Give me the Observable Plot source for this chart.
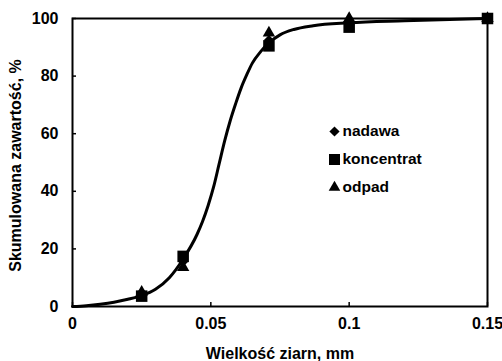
<!DOCTYPE html>
<html>
<head>
<meta charset="utf-8">
<script src="https://cdn.jsdelivr.net/npm/d3@7"></script>
<script src="https://cdn.jsdelivr.net/npm/@observablehq/plot@0.6"></script>
<style>
  html, body { margin: 0; padding: 0; background: #fff; }
  #chart svg { display: block; }
</style>
</head>
<body>
<div id="chart"></div>
<script>
// grain size, mm
const sizes = [0.025, 0.04, 0.071, 0.1, 0.15];
const nadawa = [4, 15.5, 92.5, 98.5, 100];
const koncentrat = [3.6, 17.4, 90.5, 97, 100];
const odpad = [5, 13.6, 95, 100, 100];
const seriesNames = ["nadawa", "koncentrat", "odpad"];

// fitted curve
const curveX = [0, 0.005, 0.01, 0.015, 0.02, 0.025, 0.03, 0.035, 0.04, 0.045, 0.047, 0.049, 0.051, 0.053, 0.055, 0.057, 0.059, 0.061, 0.063, 0.065, 0.068, 0.071, 0.075, 0.08, 0.087, 0.1, 0.12, 0.15];
const curveY = [0, 0.3, 0.8, 1.5, 2.5, 3.8, 6, 10, 16.5, 25, 29.5, 35, 41.5, 49.5, 57.5, 64.5, 70.5, 76, 80.5, 84.5, 88.5, 91.5, 94.3, 96.2, 97.5, 98.5, 99.2, 100];

const xTicks = [0, 0.05, 0.1, 0.15];
const xTickLabels = ["0", "0.05", "0.1", "0.15"];
const yTicks = [0, 20, 40, 60, 80, 100];
const xTitle = "Wielkość ziarn, mm";
const yTitle = "Skumulowana zawartość, %";

const curve = curveX.map((x, i) => ({x, y: curveY[i]}));
const toRows = (vals) => sizes.map((x, i) => ({x, y: vals[i]}));

const symbols = ["diamond2", "square", "triangle"];
const legendR = [4.6, 6.2, 4.3];

const legendMarks = [];
seriesNames.forEach((name, i) => {
  legendMarks.push(Plot.dot([name], {frameAnchor: "top-left", dx: 262, dy: 113 + i * 28, symbol: symbols[i], r: legendR[i], fill: "black"}));
  legendMarks.push(Plot.text([name], {frameAnchor: "top-left", dx: 270, dy: 113 + i * 28, text: d => d, textAnchor: "start", lineAnchor: "middle", fill: "black", fontSize: 15.5}));
});

const chart = Plot.plot({
  width: 502,
  height: 361,
  marginLeft: 72,
  marginRight: 15,
  marginTop: 18,
  marginBottom: 55,
  style: {fontFamily: "'Liberation Sans', Arial, sans-serif", fontWeight: "bold", fontSize: "16px", color: "black", background: "white", overflow: "visible"},
  x: {domain: [0, 0.15]},
  y: {domain: [0, 100]},
  marks: [
    Plot.axisX({ticks: xTicks, tickFormat: (d, i) => xTickLabels[i], tickSize: -4, tickPadding: 15, label: null, stroke: "black", strokeWidth: 1.5}),
    Plot.axisY({ticks: yTicks, tickSize: -4, tickPadding: 18, label: null, stroke: "black", strokeWidth: 1.5}),
    Plot.line(curve, {x: "x", y: "y", curve: "monotone-x", stroke: "black", strokeWidth: 3}),
    Plot.dot(toRows(nadawa), {x: "x", y: "y", symbol: "diamond2", r: 4.5, fill: "black"}),
    Plot.dot(toRows(odpad), {x: "x", y: "y", symbol: "triangle", r: 4.6, fill: "black"}),
    Plot.dot(toRows(koncentrat), {x: "x", y: "y", symbol: "square", r: 6.5, fill: "black"}),
    Plot.frame({stroke: "black", strokeWidth: 2}),
    ...legendMarks,
    Plot.text([xTitle], {frameAnchor: "bottom", dy: 47, text: d => d, lineAnchor: "middle", textAnchor: "middle", fill: "black"}),
    Plot.text([yTitle], {frameAnchor: "left", dx: -57, dy: 3, rotate: -90, text: d => d, textAnchor: "middle", lineAnchor: "middle", fill: "black"})
  ]
});
document.getElementById("chart").append(chart);
</script>
</body>
</html>
